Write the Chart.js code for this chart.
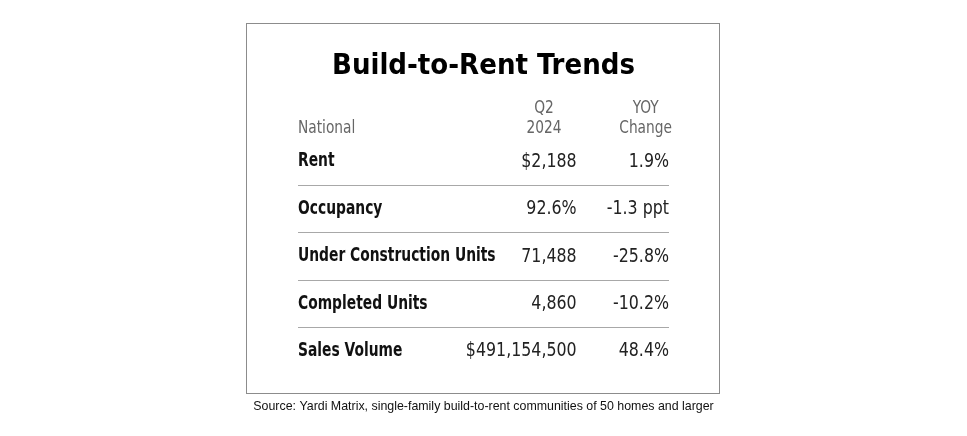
<!DOCTYPE html>
<html>
<head>
<meta charset="utf-8">
<script src="https://cdn.jsdelivr.net/npm/chart.js@4.4.1/dist/chart.umd.min.js"></script>
<style>
  html, body { margin: 0; padding: 0; background: #ffffff; }
  #wrap { width: 967px; height: 436px; position: relative; }
</style>
</head>
<body>
<div id="wrap"><canvas id="c" width="967" height="436"></canvas></div>
<script>
// ---- data ----
const titleText = "Build-to-Rent Trends";
const sourceText = "Source: Yardi Matrix, single-family build-to-rent communities of 50 homes and larger";
const headerLabel = "National";
const headerQ2 = ["Q2", "2024"];
const headerYoy = ["YOY", "Change"];
const rowLabels = ["Rent", "Occupancy", "Under Construction Units", "Completed Units", "Sales Volume"];
const q2Values = ["$2,188", "92.6%", "71,488", "4,860", "$491,154,500"];
const yoyValues = ["1.9%", "-1.3 ppt", "-25.8%", "-10.2%", "48.4%"];

const COND = '"DejaVu Sans Condensed", "DejaVu Sans", sans-serif';

function drawText(ctx, text, x, y, align, sx) {
  ctx.save();
  ctx.translate(x, y);
  ctx.scale(sx, 1);
  ctx.textAlign = align;
  ctx.fillText(text, 0, 0);
  ctx.restore();
}

const tablePlugin = {
  id: 'tableText',
  beforeDraw(chart) {
    const ctx = chart.ctx;
    ctx.save();
    ctx.strokeStyle = '#8c8c8c';
    ctx.lineWidth = 1;
    ctx.strokeRect(246.5, 23.5, 473, 370);
    ctx.restore();
  },
  afterDraw(chart) {
    const ctx = chart.ctx;
    const ys = chart.scales.y;
    const a = chart.chartArea;
    const w = a.right - a.left;
    const col2Right = a.left + w * 0.751;
    const col2Center = a.left + w * 0.663;
    const col3Right = a.right;
    const col3Center = a.left + w * 0.937;
    const rowStep = ys.getPixelForValue(1) - ys.getPixelForValue(0);
    ctx.save();
    ctx.textBaseline = 'middle';
    // headers
    const hy2 = ys.getPixelForValue(0) - rowStep * 0.7;
    const hy1 = hy2 - 20;
    ctx.fillStyle = '#666666';
    ctx.font = '18px ' + COND;
    drawText(ctx, headerLabel, a.left, hy2, 'left', 0.85);
    drawText(ctx, headerQ2[0], col2Center, hy1, 'center', 0.85);
    drawText(ctx, headerQ2[1], col2Center, hy2, 'center', 0.85);
    drawText(ctx, headerYoy[0], col3Center, hy1, 'center', 0.85);
    drawText(ctx, headerYoy[1], col3Center, hy2, 'center', 0.85);
    // rows
    rowLabels.forEach((lab, i) => {
      const y = ys.getPixelForValue(i);
      ctx.fillStyle = '#111111';
      ctx.font = 'bold 19px ' + COND;
      drawText(ctx, lab, a.left, y, 'left', 0.81);
      ctx.fillStyle = '#222222';
      ctx.font = '20px ' + COND;
      drawText(ctx, q2Values[i], col2Right, y, 'right', 0.88);
      drawText(ctx, yoyValues[i], col3Right, y, 'right', 0.88);
    });
    // source note
    ctx.fillStyle = '#111111';
    ctx.font = '12.4px "Liberation Sans", Arial, sans-serif';
    ctx.textAlign = 'center';
    ctx.fillText(sourceText, chart.width / 2, 407);
    ctx.restore();
  }
};

new Chart(document.getElementById('c'), {
  type: 'line',
  data: {
    labels: rowLabels,
    datasets: [{
      data: rowLabels.map(r => ({ x: 0, y: r })),
      showLine: false,
      pointRadius: 0,
      borderColor: 'transparent'
    }]
  },
  options: {
    responsive: false,
    animation: false,
    events: [],
    layout: { padding: { left: 298, right: 298, top: 0, bottom: 61 } },
    plugins: {
      legend: { display: false },
      tooltip: { enabled: false },
      title: {
        display: true,
        text: titleText,
        color: '#000000',
        font: { family: COND, size: 29, weight: 'bold', lineHeight: 1.2 },
        padding: { top: 49, bottom: 54 }
      }
    },
    scales: {
      x: { type: 'linear', display: false, min: 0, max: 1 },
      y: {
        type: 'category',
        labels: rowLabels,
        offset: true,
        border: { display: false },
        ticks: { display: false },
        grid: {
          offset: true,
          drawTicks: false,
          lineWidth: 1,
          color: (c) => (c.type !== 'tick' || c.index === 0) ? 'rgba(0,0,0,0)' : '#a8a8a8'
        }
      }
    }
  },
  plugins: [tablePlugin]
});
</script>
</body>
</html>
